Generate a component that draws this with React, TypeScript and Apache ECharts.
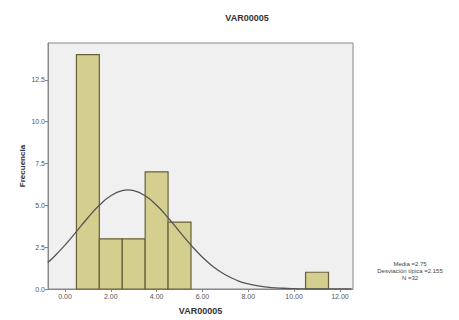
import React, { useEffect, useRef } from "react";
import * as echarts from "echarts";

const title = "VAR00005";
const binStart = [0.5, 1.5, 2.5, 3.5, 4.5, 10.5];
const binEnd = [1.5, 2.5, 3.5, 4.5, 5.5, 11.5];
const counts = [14, 3, 3, 7, 4, 1];
const curveX = [-0.75, -0.5, 0, 0.5, 1, 1.5, 2, 2.5, 2.75, 3, 3.5, 4, 4.5, 5, 5.5, 6, 6.5, 7, 7.5, 8, 8.5, 9, 9.5, 10, 10.5, 11, 11.5, 12, 12.5];
const curveY = [1.58, 1.9, 2.62, 3.43, 4.26, 5.0, 5.57, 5.88, 5.92, 5.88, 5.57, 5.0, 4.26, 3.43, 2.62, 1.9, 1.3, 0.85, 0.52, 0.3, 0.17, 0.088, 0.044, 0.02, 0.01, 0.004, 0.002, 0.001, 0];
const xTicks = [0, 2, 4, 6, 8, 10, 12];
const yTicks = [0, 2.5, 5, 7.5, 10, 12.5];
const statsLines = ["Media =2.75", "Desviación típica =2.155", "N =32"];

export default function App() {
  const ref = useRef<HTMLDivElement>(null);
  useEffect(() => {
    if (!ref.current) return;
    const chart = echarts.init(ref.current, undefined, { renderer: "svg" });
    const barData = counts.map((c, i) => [binStart[i], binEnd[i], c]);
    const labelStyle = { fontSize: 7, color: "#555", fontFamily: "Arial, Liberation Sans, sans-serif" };
    chart.setOption({
      animation: false,
      backgroundColor: "#ffffff",
      title: {
        text: title,
        left: 242,
        top: 8,
        textAlign: "center",
        textStyle: { fontSize: 9, fontWeight: "bold", color: "#333", fontFamily: "Arial, Liberation Sans, sans-serif" },
      },
      grid: {
        left: 48,
        top: 43,
        width: 305,
        height: 246,
        show: true,
        backgroundColor: "#f0f0f0",
        borderColor: "#888",
        borderWidth: 1,
      },
      xAxis: {
        type: "value",
        min: -0.74,
        max: 12.57,
        name: "VAR00005",
        nameLocation: "middle",
        nameGap: 17,
        nameMoveOverlap: false,
        nameTextStyle: { fontSize: 9, fontWeight: "bold", color: "#333", fontFamily: "Arial, Liberation Sans, sans-serif" },
        splitLine: { show: false },
        axisLine: { show: true, onZero: false, lineStyle: { color: "#888" } },
        axisTick: { show: true, customValues: xTicks, length: 3, lineStyle: { color: "#888" } },
        axisLabel: { ...labelStyle, customValues: xTicks, margin: 4, formatter: (v: number) => v.toFixed(2) },
      },
      yAxis: {
        type: "value",
        min: 0,
        max: 14.7,
        name: "Frecuencia",
        nameLocation: "middle",
        nameGap: 22,
        nameMoveOverlap: false,
        nameRotate: 90,
        nameTextStyle: { fontSize: 8, fontWeight: "bold", color: "#333", fontFamily: "Arial, Liberation Sans, sans-serif" },
        splitLine: { show: false },
        axisLine: { show: true, onZero: false, lineStyle: { color: "#888" } },
        axisTick: { show: true, customValues: yTicks, length: 3, lineStyle: { color: "#888" } },
        axisLabel: { ...labelStyle, customValues: yTicks, margin: 3, formatter: (v: number) => v.toFixed(1) },
      },
      series: [
        {
          type: "custom",
          data: barData,
          encode: { x: [0, 1], y: 2 },
          renderItem: (params: any, api: any) => {
            const p0 = api.coord([api.value(0), api.value(2)]);
            const p1 = api.coord([api.value(1), 0]);
            return {
              type: "rect",
              shape: { x: p0[0], y: p0[1], width: p1[0] - p0[0], height: p1[1] - p0[1] },
              style: { fill: "#d4cf8e", stroke: "#66603a", lineWidth: 1.2 },
            };
          },
          z: 2,
        },
        {
          type: "line",
          data: curveX.map((x, i) => [x, curveY[i]]),
          smooth: true,
          symbol: "none",
          lineStyle: { color: "#555", width: 1.3 },
          z: 3,
        },
      ],
      graphic: statsLines.map((t, i) => ({
        type: "text",
        x: 410,
        y: 261 + i * 7,
        style: {
          text: t,
          fontSize: 6,
          fill: "#444",
          textAlign: "center",
          fontFamily: "Arial, Liberation Sans, sans-serif",
        },
      })),
    });
    return () => chart.dispose();
  }, []);
  return <div ref={ref} style={{ position: "fixed", left: 0, top: 0, width: 459, height: 320 }} />;
}
